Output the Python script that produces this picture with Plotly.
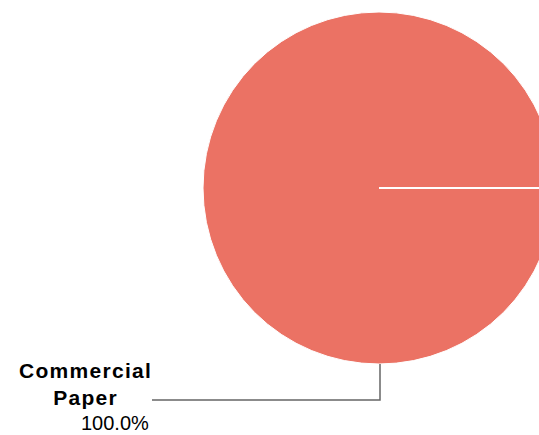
import plotly.graph_objects as go

# ---- data ----
labels = ["Commercial Paper"]
values = [100.0]
colors = ["#EB7264"]

# ---- layout geometry (pixels) ----
W, H = 560, 435
cx, cy, r = 379, 188, 176

def px(x):
    return x / W

def py(y):
    return 1 - y / H

total = sum(values)
pcts = [v / total * 100 for v in values]

fig = go.Figure()
fig.add_trace(go.Pie(
    labels=labels,
    values=values,
    marker=dict(colors=colors, line=dict(color="white", width=1)),
    textinfo="none",
    hoverinfo="label+percent",
    sort=False,
    direction="clockwise",
    rotation=90,
    showlegend=False,
    domain=dict(x=[px(cx - r), px(cx + r)], y=[py(cy + r), py(cy - r)]),
))

# slice boundary line (start of slice at 3 o'clock)
fig.add_shape(type="line", xref="paper", yref="paper",
              x0=px(cx), y0=py(cy), x1=px(cx + r), y1=py(cy),
              line=dict(color="white", width=2))

# leader line
lx, ly = 380, 400
fig.add_shape(type="path", xref="paper", yref="paper",
              path=f"M {px(lx)},{py(cy + r)} L {px(lx)},{py(ly)} L {px(152)},{py(ly)}",
              line=dict(color="#666666", width=1.5))

name = labels[0].replace(" ", "<br>")
fig.add_annotation(
    xref="paper", yref="paper", x=px(85), y=py(384), xanchor="center", yanchor="middle",
    text=f"<span style='letter-spacing:1.3px'><b>{name}</b></span>",
    showarrow=False, align="center",
    font=dict(family="Liberation Sans, Arial", size=21, color="black"),
)
fig.add_annotation(
    xref="paper", yref="paper", x=px(151), y=py(423), xanchor="right", yanchor="middle",
    text=f"{pcts[0]:.1f}%",
    showarrow=False, align="right",
    font=dict(family="Liberation Sans, Arial", size=20, color="black"),
)

fig.update_layout(
    width=W, height=H,
    margin=dict(l=0, r=0, t=0, b=0),
    paper_bgcolor="white", plot_bgcolor="white",
)

fig.write_html("out.html",
               post_script="document.documentElement.style.overflow='hidden';document.body.style.overflow='hidden';document.body.style.margin='0';")
